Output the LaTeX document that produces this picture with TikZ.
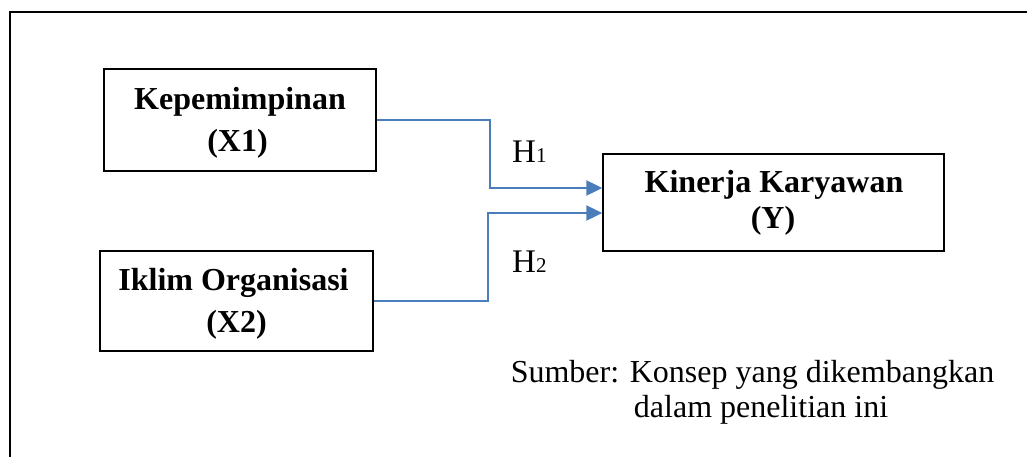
\documentclass[tikz,border=0pt]{standalone}
\usepackage{fontspec}
\setmainfont{Liberation Serif}
\usetikzlibrary{arrows.meta}
\definecolor{linkblue}{RGB}{74,126,187}
\tikzset{
  varbox/.style={draw=black, line width=1.5pt, inner sep=0pt},
  boldtxt/.style={anchor=base, inner sep=0pt, font=\fontsize{32}{38}\selectfont\bfseries},
  plaintxt/.style={anchor=base, inner sep=0pt, font=\fontsize{32}{38}\selectfont},
  hyp/.style={anchor=base west, inner sep=0pt, font=\fontsize{33}{38}\selectfont},
  conn/.style={draw=linkblue, line width=2.4pt, -{Triangle[length=16pt,width=15pt]}},
}
\begin{document}
\begin{tikzpicture}[x=1pt, y=-1pt]
  \clip (0,0) rectangle (1027,457);
  \fill[white] (0,0) rectangle (1027,457);
  % outer frame
  \draw[line width=2pt] (10,480) -- (10,12) -- (1050,12);

  % variable boxes
  \node[varbox, minimum width=272pt, minimum height=102pt] (b1) at (240,120) {};
  \node[varbox, minimum width=273pt, minimum height=100pt] (b2) at (236.5,301) {};
  \node[varbox, minimum width=341pt, minimum height=97pt] (by) at (773.5,202.5) {};

  % box captions
  \node[boldtxt] (t1a) at (240,110) {Kepemimpinan};
  \node[boldtxt] (t1b) at (237.5,152) {(X1)};
  \node[boldtxt] (t2a) at (233.5,290) {Iklim Organisasi};
  \node[boldtxt] (t2b) at (236.5,332) {(X2)};
  \node[boldtxt] (tya) at (774,193) {Kinerja Karyawan};
  \node[boldtxt] (tyb) at (773,228) {(Y)};

  % hypothesis paths
  \draw[conn] (b1.east) -- ++(113,0) |- ([yshift=14.5pt]by.west);
  \draw[conn] (b2.east) -- ++(114,0) |- ([yshift=-10.5pt]by.west);
  \node[hyp] (h1) at (512,163) {H\fontsize{21}{24}\selectfont 1};
  \node[hyp] (h2) at (512,272.5) {H\fontsize{21}{24}\selectfont 2};

  % source note
  \node[plaintxt] (src1) at (752.5,382) {Sumber: Konsep yang dikembangkan};
  \node[plaintxt] (src2) at (761,417) {dalam penelitian ini};
\end{tikzpicture}
\end{document}
